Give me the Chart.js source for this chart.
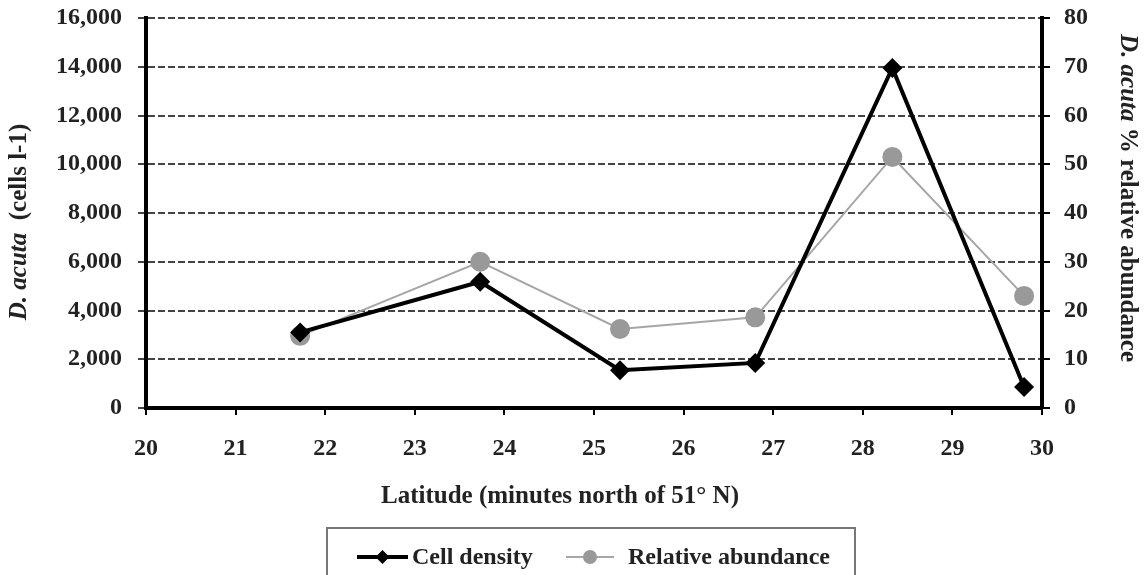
<!DOCTYPE html>
<html>
<head>
<meta charset="utf-8">
<script src="https://cdn.jsdelivr.net/npm/chart.js@4.4.1/dist/chart.umd.min.js"></script>
<style>
  html, body { margin: 0; padding: 0; background: #fff; }
  #wrap { width: 1146px; height: 575px; }
</style>
</head>
<body>
<div id="wrap"><canvas id="chart" width="1146" height="575"></canvas></div>
<script>
// latitude (minutes north of 51 N)
const latitude = [21.72, 23.73, 25.29, 26.8, 28.33, 29.8];
const cellDensity = [3100, 5180, 1550, 1850, 13950, 860];
const relAbundance = [14.8, 30, 16.2, 18.6, 51.5, 23];

const serif = '"Liberation Serif", "Times New Roman", serif';
const tickFont = { family: serif, size: 24, weight: 'bold' };

const toPoints = (ys) => latitude.map((x, i) => ({ x: x, y: ys[i] }));

// axis titles (mixed italic) + boxed legend
const extras = {
  id: 'extras',
  afterDraw(chart) {
    const ctx = chart.ctx;
    const drawRich = (parts, cx, cy, rot) => {
      ctx.save();
      ctx.translate(cx, cy);
      ctx.rotate(rot);
      ctx.textBaseline = 'middle';
      ctx.fillStyle = '#222';
      let total = 0;
      parts.forEach(p => { ctx.font = p.font; total += ctx.measureText(p.text).width; });
      let x = -total / 2;
      parts.forEach(p => {
        ctx.font = p.font;
        ctx.fillText(p.text, x, 0);
        x += ctx.measureText(p.text).width;
      });
      ctx.restore();
    };
    const it = 'italic bold 25px ' + serif;
    const bd = 'bold 25px ' + serif;
    drawRich([{ text: 'D. acuta', font: it }, { text: '  (cells l-1)', font: bd }], 20, 222, -Math.PI / 2);
    drawRich([{ text: 'D. acuta', font: it }, { text: ' % relative abundance', font: bd }], 1127, 198, Math.PI / 2);
    drawRich([{ text: 'Latitude (minutes north of 51\u00b0 N)', font: bd }], 560, 497, 0);

    // legend
    ctx.save();
    ctx.strokeStyle = '#777';
    ctx.lineWidth = 2;
    ctx.strokeRect(327, 528, 528, 70);
    const ly = 557;
    const items = [
      { ds: chart.data.datasets[0], x0: 357, x1: 408, tx: 412 },
      { ds: chart.data.datasets[1], x0: 566, x1: 614, tx: 628 }
    ];
    items.forEach(item => {
      const ds = item.ds;
      ctx.strokeStyle = ds.borderColor;
      ctx.lineWidth = ds.borderWidth;
      ctx.beginPath();
      ctx.moveTo(item.x0, ly);
      ctx.lineTo(item.x1, ly);
      ctx.stroke();
      const cx = (item.x0 + item.x1) / 2;
      ctx.fillStyle = ds.pointBackgroundColor;
      ctx.beginPath();
      if (ds.pointStyle === 'rectRot') {
        const r = 7;
        ctx.moveTo(cx, ly - r); ctx.lineTo(cx + r, ly); ctx.lineTo(cx, ly + r); ctx.lineTo(cx - r, ly);
        ctx.closePath();
      } else {
        ctx.arc(cx, ly, 7, 0, Math.PI * 2);
      }
      ctx.fill();
      ctx.fillStyle = '#222';
      ctx.font = 'bold 24px ' + serif;
      ctx.textBaseline = 'middle';
      ctx.fillText(ds.label, item.tx, ly + 1);
    });
    ctx.restore();
  }
};

const noPad = (w) => (scale) => {
  scale.width = w;
  scale.paddingTop = 0;
  scale.paddingBottom = 0;
};

new Chart(document.getElementById('chart'), {
  type: 'line',
  data: {
    datasets: [{
      label: 'Cell density',
      data: toPoints(cellDensity),
      yAxisID: 'y',
      borderColor: '#000',
      borderWidth: 4,
      pointStyle: 'rectRot',
      pointRadius: 10,
      pointBackgroundColor: '#000',
      pointBorderColor: '#000',
      pointBorderWidth: 0,
      tension: 0
    }, {
      label: 'Relative abundance',
      data: toPoints(relAbundance),
      yAxisID: 'y1',
      borderColor: '#a6a6a6',
      borderWidth: 2,
      pointStyle: 'circle',
      pointRadius: 10,
      pointBackgroundColor: '#999',
      pointBorderColor: '#999',
      pointBorderWidth: 0,
      tension: 0
    }]
  },
  options: {
    responsive: false,
    animation: false,
    layout: { padding: { top: 18, bottom: 55, left: 0, right: 0 } },
    plugins: { legend: { display: false }, tooltip: { enabled: false } },
    scales: {
      x: {
        type: 'linear',
        min: 20, max: 30,
        ticks: { stepSize: 1, font: tickFont, color: '#222', padding: 19 },
        grid: { drawOnChartArea: false, drawTicks: true, tickLength: 7, color: '#000', lineWidth: 2 },
        border: { width: 4, color: '#000' },
        afterFit(scale) { scale.height = 112; }
      },
      y: {
        position: 'left',
        min: 0, max: 16000,
        ticks: {
          stepSize: 2000, font: tickFont, color: '#222', padding: 16,
          callback: (v) => v.toLocaleString('en-US')
        },
        grid: { color: '#444', lineWidth: 2, tickLength: 8 },
        border: { width: 4, color: '#000', dash: [7, 3] },
        afterFit: noPad(146)
      },
      y1: {
        position: 'right',
        min: 0, max: 80,
        ticks: { stepSize: 10, font: tickFont, color: '#222', padding: 14 },
        grid: { drawOnChartArea: false, color: '#000', lineWidth: 2, tickLength: 8 },
        border: { width: 4, color: '#000' },
        afterFit: noPad(104)
      }
    }
  },
  plugins: [extras]
});
</script>
</body>
</html>
